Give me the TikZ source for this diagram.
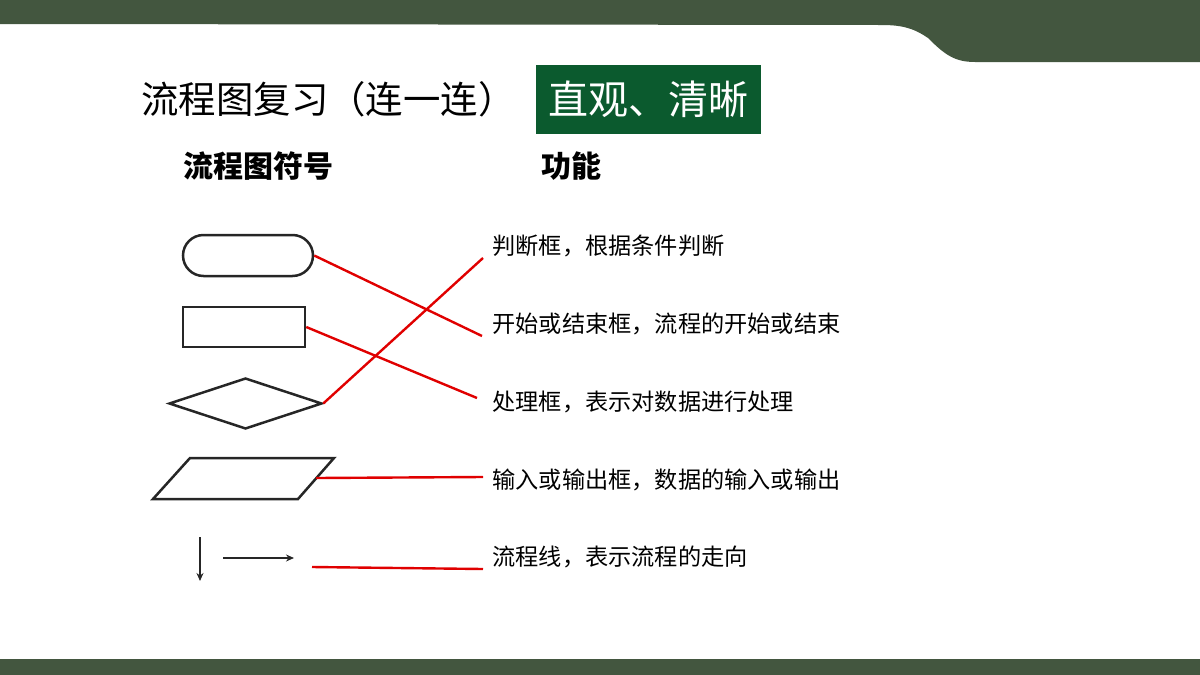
\documentclass[tikz,border=0pt]{standalone}
\usepackage{fontspec}
\setmainfont{Noto Sans CJK SC}
\usetikzlibrary{shapes.geometric,arrows.meta}
\definecolor{band}{HTML}{43563F}
\definecolor{boxgreen}{HTML}{0B5A2E}
\definecolor{linkred}{HTML}{E00000}
\tikzset{
  sym/.style={draw=black!85, line width=1.25pt, inner sep=0pt},
  link/.style={draw=linkred, line width=1.2pt},
  func/.style={anchor=west, inner sep=0pt, font=\fontsize{11.6pt}{13pt}\selectfont},
  flow/.style={draw=black!85, line width=0.8pt, -{Stealth[length=4pt,width=3.5pt]}},
}
\begin{document}
\begin{tikzpicture}[x=0.5pt,y=-0.5pt]
\useasboundingbox (0,0) rectangle (1200,675);
% bands
\fill[band] (0,0) -- (1200,0) -- (1200,62) -- (975,62)
  .. controls (955,62) and (945,55) .. (928,38)
  .. controls (912,27) and (900,25) .. (880,25) -- (0,24) -- cycle;
\fill[band] (0,659) rectangle (1200,675);
% title
\node[anchor=west, inner sep=0pt, font=\fontsize{18.7pt}{20pt}\selectfont] (title) at (141,99) {流程图复习（连一连）};
\node[fill=boxgreen, text=white, minimum width=112.5pt, minimum height=34.5pt, inner sep=0pt,
  font=\fontsize{20pt}{21pt}\selectfont] (tag) at (648.5,99) {直观、清晰};
\node[anchor=west, inner sep=0pt, font=\fontsize{15pt}{16pt}\selectfont\bfseries] (h1) at (183,166) {流程图符号};
\node[anchor=west, inner sep=0pt, font=\fontsize{15pt}{16pt}\selectfont\bfseries] (h2) at (541,166) {功能};
% symbols
\node[sym, rounded corners=10.25pt, minimum width=65pt, minimum height=20.5pt] (term) at (248,255.5) {};
\node[sym, minimum width=61pt, minimum height=20pt] (proc) at (244,327) {};
\node[sym, diamond, minimum width=76.5pt, minimum height=25.5pt] (dec) at (245.5,403.5) {};
\draw[sym, line join=miter] (153,499) -- (190,458) -- (334,458) -- (298,499) -- cycle;
\coordinate (io) at (316,478);
\coordinate (va) at (200,537);
\coordinate (vb) at (200,581);
\coordinate (ha) at (223,558);
\coordinate (hb) at (294,558);
\draw[flow] (va) -- (vb);
\draw[flow] (ha) -- (hb);
\coordinate (fl) at (312,567);
% function texts
\node[func] (t1) at (492,246) {判断框，根据条件判断};
\node[func] (t2) at (492,324) {开始或结束框，流程的开始或结束};
\node[func] (t3) at (492,402) {处理框，表示对数据进行处理};
\node[func] (t4) at (492,480) {输入或输出框，数据的输入或输出};
\node[func] (t5) at (492,557) {流程线，表示流程的走向};
% link ends
\coordinate (e1) at (483,258);
\coordinate (e2) at (482,336);
\coordinate (e3) at (477,398);
\coordinate (e4) at (483,477);
\coordinate (e5) at (483,569);
% links
\draw[link] (term.east) -- (e2);
\draw[link] (proc.east) -- (e3);
\draw[link] (dec.east) -- (e1);
\draw[link] (io) -- (e4);
\draw[link] (fl) -- (e5);
\end{tikzpicture}
\end{document}
